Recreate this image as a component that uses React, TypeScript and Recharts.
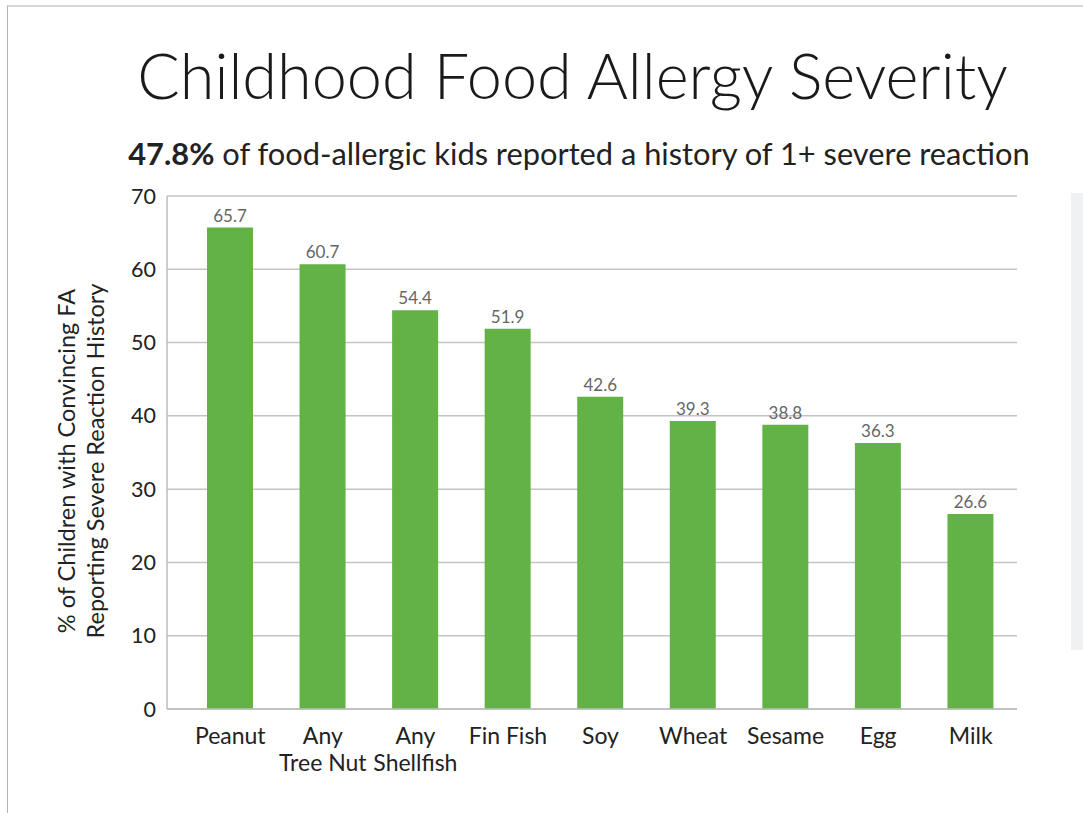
import React from 'react';
import { BarChart, Bar, XAxis, YAxis, CartesianGrid, LabelList } from 'recharts';

const foods = ['Peanut', 'Any\nTree Nut', 'Any\nShellfish', 'Fin Fish', 'Soy', 'Wheat', 'Sesame', 'Egg', 'Milk'];
const severePct = [65.7, 60.7, 54.4, 51.9, 42.6, 39.3, 38.8, 36.3, 26.6];
const yTicks = [0, 10, 20, 30, 40, 50, 60, 70];

const chartData = foods.map((food, i) => ({ food, pct: severePct[i] }));

const FONT = 'Lato, "Noto Sans", sans-serif';

const FoodTick = (props: any) => {
  const { x, y, payload } = props;
  const lines = String(payload.value).split('\n');
  return (
    <g transform={`translate(${x},${y})`}>
      {lines.map((ln: string, i: number) => (
        <text key={i} x={0} y={27 + i * 27} textAnchor="middle" fill="#222" fontSize={23} fontFamily={FONT}>
          {ln}
        </text>
      ))}
    </g>
  );
};

const AxisTitle = () => (
  <g transform="translate(81,461) rotate(-90)">
    <text x={0} y={-6} textAnchor="middle" fill="#222" fontSize={23.5} fontFamily={FONT}>
      % of Children with Convincing FA
    </text>
    <text x={0} y={23} textAnchor="middle" fill="#222" fontSize={23.5} fontFamily={FONT}>
      Reporting Severe Reaction History
    </text>
  </g>
);

export default function App() {
  return (
    <div style={{ position: 'absolute', left: 0, top: 0, width: 1083, height: 813, background: '#fff', overflow: 'hidden' }}>
      <div style={{ position: 'absolute', left: 7, top: 5, right: 0, bottom: 0, borderTop: '2px solid #d6d6d6', borderLeft: '1px solid #b4b4b4' }} />
      <div style={{ position: 'absolute', left: 1071, top: 193, width: 12, height: 457, background: '#f0f1f3' }} />
      <div style={{ position: 'absolute', left: 0, width: 1083, top: 37, textAlign: 'center', paddingLeft: 62, boxSizing: 'border-box', fontFamily: FONT, fontWeight: 300, fontSize: 63, color: '#1a1a1a', whiteSpace: 'nowrap' }}>
        Childhood Food Allergy Severity
      </div>
      <div style={{ position: 'absolute', left: 0, width: 1083, top: 135, textAlign: 'center', paddingLeft: 75, boxSizing: 'border-box', fontFamily: FONT, fontSize: 30.8, color: '#222', whiteSpace: 'nowrap' }}>
        <b>47.8%</b> of food-allergic kids reported a history of 1+ severe reaction
      </div>
      <div style={{ position: 'absolute', left: 0, top: 0 }}>
        <BarChart width={1083} height={813} data={chartData} margin={{ top: 196, right: 66, left: 107, bottom: 64 }}>
          <CartesianGrid vertical={false} stroke="#c4c4c4" strokeWidth={1.5} />
          <XAxis
            dataKey="food"
            interval={0}
            tick={<FoodTick />}
            tickLine={false}
            axisLine={{ stroke: '#bdbdbd', strokeWidth: 1.5 }}
            padding={{ left: 17, right: 0 }}
            height={40}
          />
          <YAxis
            domain={[0, 70]}
            ticks={yTicks}
            width={60}
            tickLine={false}
            axisLine={{ stroke: '#bdbdbd', strokeWidth: 1.5 }}
            tick={{ fill: '#222', fontSize: 21.5, fontFamily: FONT }}
            tickMargin={5}
          />
          <Bar dataKey="pct" fill="#62b246" barSize={46} isAnimationActive={false}>
            <LabelList dataKey="pct" position="top" offset={6} fill="#666" fontSize={17} fontFamily={FONT} />
          </Bar>
          <AxisTitle />
        </BarChart>
      </div>
    </div>
  );
}
